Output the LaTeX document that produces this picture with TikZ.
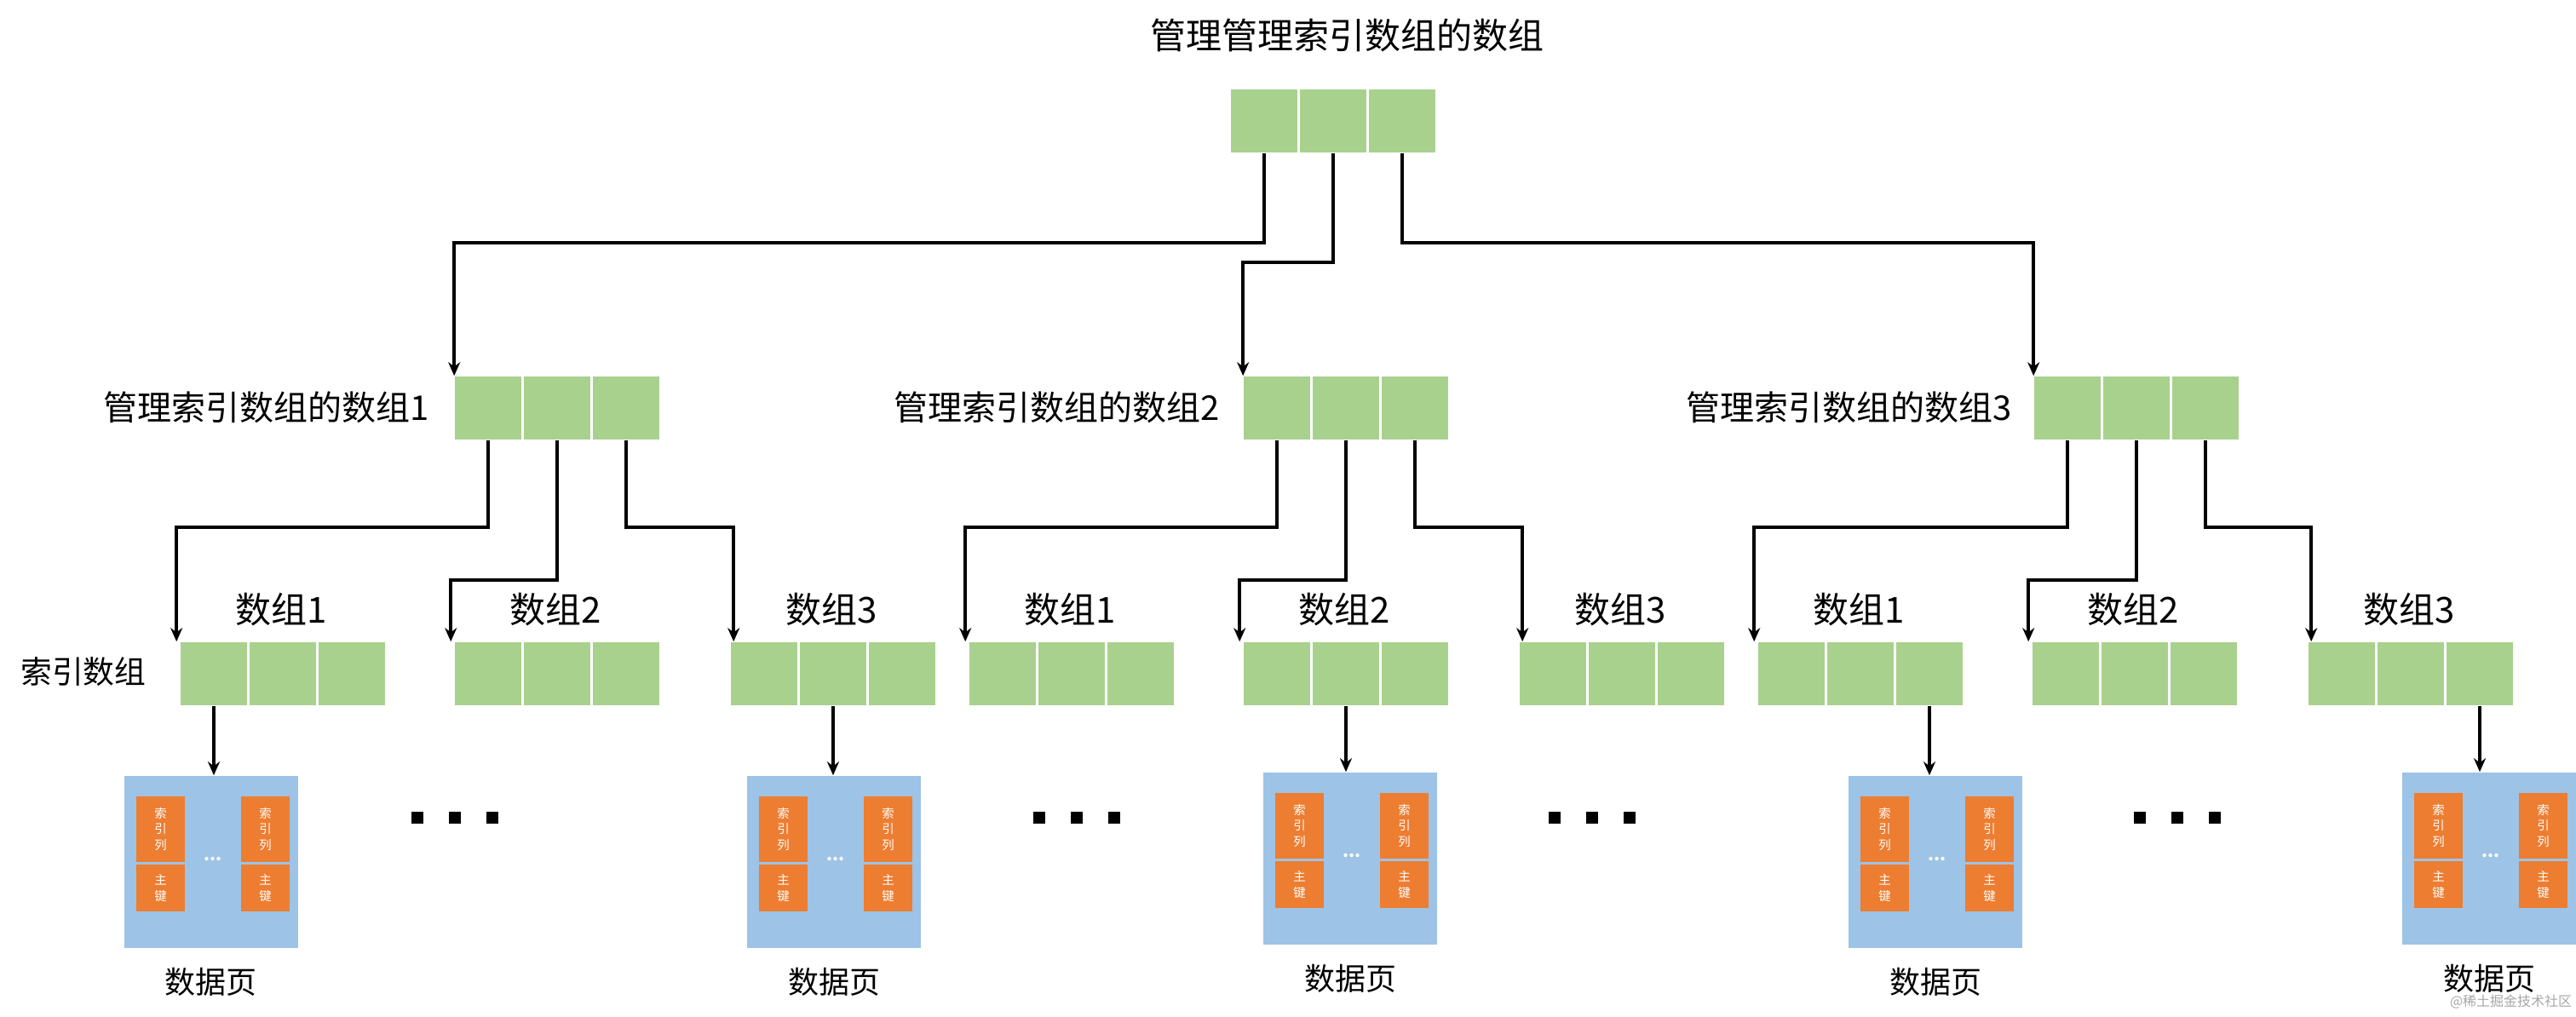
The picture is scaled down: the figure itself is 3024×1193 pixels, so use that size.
\documentclass[tikz,border=0pt]{standalone}
\usepackage{fontspec}
\setmainfont{Noto Sans CJK SC}
\usetikzlibrary{arrows.meta,calc}
\definecolor{cg}{HTML}{A9D18E}
\definecolor{cb}{HTML}{9DC3E6}
\definecolor{co}{HTML}{ED7D31}
\newcommand\mkarr[3]{\foreach \i in {1,2,3} {\node[cell] (#1-\i) at ({#2+39+(\i-1)*81},{#3+37}) {};}}
\newcommand\mkpage[3]{%
 \node[page] (#1) at ({#2+102},{#3+101}) {};
 \node[ocol,minimum height=19.25pt] (#1-a) at ({#2+14+28.5},{#3+24+38.5}) {索\\引\\列};
 \node[ocol,minimum height=13.75pt] (#1-b) at ({#2+14+28.5},{#3+104+27.5}) {主\\键};
 \node[ocol,minimum height=19.25pt] (#1-c) at ({#2+137+28.5},{#3+24+38.5}) {索\\引\\列};
 \node[ocol,minimum height=13.75pt] (#1-d) at ({#2+137+28.5},{#3+104+27.5}) {主\\键};
 \node[dots] (#1-e) at ({#2+104},{#3+98}) {...};
 \node[lab3] (#1-l) at ({#2+102},{#3+242}) {数据页};}
\newcommand\mkdots[3]{\foreach \i in {0,1,2} {\node[sq] (#1-\i) at ({#2+\i*44},#3) {};}}
\begin{document}
\begin{tikzpicture}[x=0.25pt,y=-0.25pt,
 cell/.style={fill=cg,minimum width=19.5pt,minimum height=18.5pt,inner sep=0,draw=none},
 page/.style={fill=cb,minimum width=51pt,minimum height=50.5pt,inner sep=0},
 ocol/.style={fill=co,text=white,minimum width=14.25pt,inner sep=0,align=center,font=\fontsize{3.6}{4.6}\selectfont},
 dots/.style={text=white,inner sep=0,font=\fontsize{5}{5}\selectfont\bfseries},
 sq/.style={fill=black,minimum size=3.3pt,inner sep=0},
 conn/.style={line width=1pt,-{Stealth[length=4pt,width=3.5pt]}},
 lab1/.style={font=\fontsize{10.5}{11}\selectfont,inner sep=0},
 lab2/.style={font=\fontsize{10}{10}\selectfont,inner sep=0},
 lab4/.style={font=\fontsize{10.5}{11}\selectfont,inner sep=0},
 lab3/.style={font=\fontsize{9}{9}\selectfont,inner sep=0}]
\useasboundingbox (0,0) rectangle (3024,1193);
\node[lab1] (title) at (1581,42) {管理管理索引数组的数组};
\mkarr{T}{1445}{105}
\mkarr{A}{534}{442}\mkarr{B}{1460}{442}\mkarr{C}{2388}{442}
\node[lab2,anchor=east] (la) at (505,478) {管理索引数组的数组1};
\node[lab2,anchor=east] (lb) at (1432,478) {管理索引数组的数组2};
\node[lab2,anchor=east] (lc) at (2362,478) {管理索引数组的数组3};
\mkarr{A1}{212}{754}\mkarr{A2}{534}{754}\mkarr{A3}{858}{754}
\mkarr{B1}{1138}{754}\mkarr{B2}{1460}{754}\mkarr{B3}{1784}{754}
\mkarr{C1}{2064}{754}\mkarr{C2}{2386}{754}\mkarr{C3}{2710}{754}
\foreach \n/\x/\k in {A1/212/1,A2/534/2,A3/858/3,B1/1138/1,B2/1460/2,B3/1784/3,C1/2064/1,C2/2386/2,C3/2710/3}
  {\node[lab4] (\n-t) at ({\x+118},716) {数组\k};}
\node[lab3,font=\fontsize{9.2}{9}\selectfont] (idx) at (98,789) {索引数组};
\path (0,285) coordinate (y1) (0,308) coordinate (y2) (0,619) coordinate (y3) (0,681) coordinate (y4);
\draw[conn] (T-1.south) -- (T-1.south |- y1) -| (A-1.north west);
\draw[conn] (T-2.south) -- (T-2.south |- y2) -| (B-1.north west);
\draw[conn] (T-3.south) -- (T-3.south |- y1) -| (C-1.north west);
\foreach \p in {A,B,C}{
 \draw[conn] (\p-1.south) -- (\p-1.south |- y3) -| ([xshift=-1pt]\p1-1.north west);
 \draw[conn] (\p-2.south) -- (\p-2.south |- y4) -| ([xshift=-1pt]\p2-1.north west);
 \draw[conn] (\p-3.south) -- (\p-3.south |- y3) -| ([xshift=1pt]\p3-1.north west);}
\mkpage{P1}{146}{911}\mkpage{P2}{877}{911}\mkpage{P3}{1483}{907}\mkpage{P4}{2170}{911}\mkpage{P5}{2820}{907}
\draw[conn] (A1-1.south) -- (A1-1.south |- P1.north);
\draw[conn] (A3-2.south) -- (A3-2.south |- P2.north);
\draw[conn] (B2-2.south) -- (B2-2.south |- P3.north);
\draw[conn] (C1-3.south) -- (C1-3.south |- P4.north);
\draw[conn] (C3-3.south) -- (C3-3.south |- P5.north);
\mkdots{D1}{490}{960}\mkdots{D2}{1220}{960}\mkdots{D3}{1825}{960}\mkdots{D4}{2512}{960}
\node[text=gray!70,font=\fontsize{4}{4}\selectfont,anchor=east,inner sep=0] (wm) at (3020,1176) {@稀土掘金技术社区};
\end{tikzpicture}
\end{document}
